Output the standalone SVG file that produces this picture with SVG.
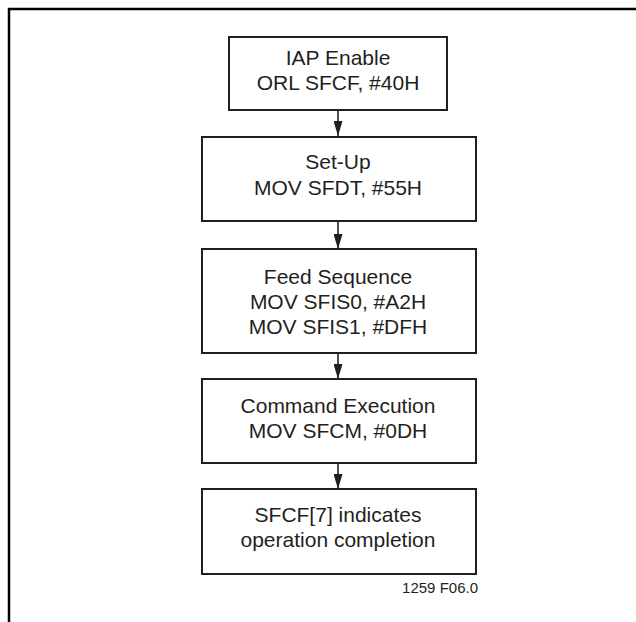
<svg xmlns="http://www.w3.org/2000/svg" width="636" height="622" viewBox="0 0 636 622">
<defs>
<style>
.box{fill:#fff;stroke:#231f20;stroke-width:2}
.t{font-family:"Liberation Sans",Arial,sans-serif;font-size:21px;fill:#231f20;text-anchor:middle}
.c{stroke:#231f20;stroke-width:1.6;fill:none}
.frame{stroke:#000;stroke-width:2.5;fill:none}
</style>
<marker id="ah" markerWidth="15" markerHeight="9" refX="15" refY="4.5" orient="auto" markerUnits="userSpaceOnUse" viewBox="0 0 15 9">
<path d="M0,0 L15,4.5 L0,9 Z" fill="#231f20"/>
</marker>
</defs>
<rect width="636" height="622" fill="#fff"/>
<path class="frame" d="M9 622 V9 H636"/>
<g id="connectors">
<line class="c" x1="338" y1="111" x2="338" y2="136" marker-end="url(#ah)"/>
<line class="c" x1="338" y1="221" x2="338" y2="249" marker-end="url(#ah)"/>
<line class="c" x1="338" y1="353" x2="338" y2="379" marker-end="url(#ah)"/>
<line class="c" x1="338" y1="463" x2="338" y2="489" marker-end="url(#ah)"/>
</g>
<g id="n1">
<rect class="box" x="229" y="37" width="218" height="73"/>
<text class="t" x="338" y="65">IAP Enable</text>
<text class="t" x="338" y="90">ORL SFCF, #40H</text>
</g>
<g id="n2">
<rect class="box" x="202" y="137" width="274" height="84"/>
<text class="t" x="338" y="169">Set-Up</text>
<text class="t" x="338" y="195">MOV SFDT, #55H</text>
</g>
<g id="n3">
<rect class="box" x="202" y="249" width="274" height="104"/>
<text class="t" x="338" y="284">Feed Sequence</text>
<text class="t" x="338" y="309">MOV SFIS0, #A2H</text>
<text class="t" x="338" y="334">MOV SFIS1, #DFH</text>
</g>
<g id="n4">
<rect class="box" x="202" y="379" width="274" height="84"/>
<text class="t" x="338" y="413">Command Execution</text>
<text class="t" x="338" y="438">MOV SFCM, #0DH</text>
</g>
<g id="n5">
<rect class="box" x="202" y="489" width="274" height="85"/>
<text class="t" x="338" y="522">SFCF[7] indicates</text>
<text class="t" x="338" y="547">operation completion</text>
</g>
<text x="478" y="593" style="font-family:'Liberation Sans',Arial,sans-serif;font-size:15px;fill:#231f20;text-anchor:end">1259 F06.0</text>
</svg>
